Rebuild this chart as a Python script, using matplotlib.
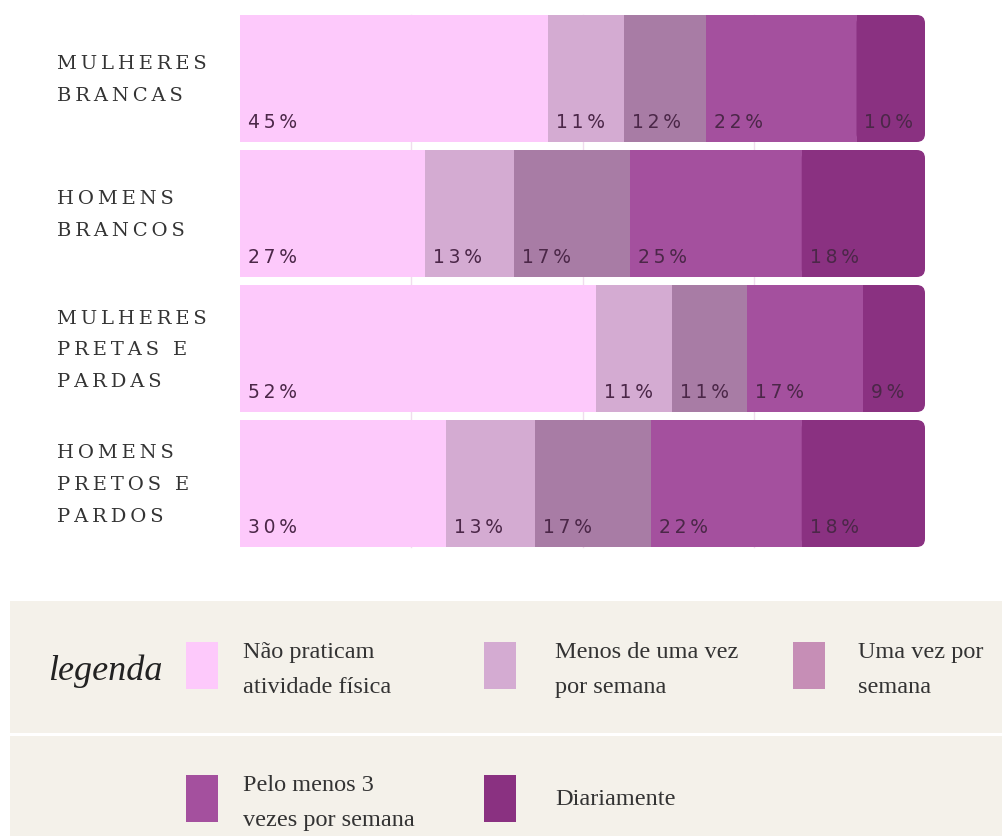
import numpy as np
import matplotlib.pyplot as plt
from matplotlib.patches import FancyBboxPatch, Rectangle

# Prática de atividade física por grupo (%)
groups = ['MULHERES\nBRANCAS', 'HOMENS\nBRANCOS',
          'MULHERES\nPRETAS E\nPARDAS', 'HOMENS\nPRETOS E\nPARDOS']
categories = ['Não praticam\natividade física', 'Menos de uma vez\npor semana',
              'Uma vez por\nsemana', 'Pelo menos 3\nvezes por semana', 'Diariamente']
nao_praticam = [45, 27, 52, 30]
menos_uma_vez = [11, 13, 11, 13]
uma_vez = [12, 17, 11, 17]
tres_vezes = [22, 25, 17, 22]
diariamente = [10, 18, 9, 18]

bar_colors = ['#fdc9fb', '#d4abd2', '#a87ca5', '#a4509e', '#8a3181']
legend_colors = ['#fdc9fb', '#d4abd2', '#c68eb6', '#a4509e', '#8a3181']

W, H = 1003, 836
THIN = '\u2009'


def px_box(x0, y0, x1, y1):
    """figure rect from pixel corners (origin top-left)"""
    return [x0 / W, 1 - y1 / H, (x1 - x0) / W, (y1 - y0) / H]


def spaced(s):
    return THIN.join(s)


fig = plt.figure(figsize=(W / 100, H / 100), dpi=100)
fig.patch.set_facecolor('white')

# ── stacked bars ─────────────────────────────────────────────
ax = fig.add_axes(px_box(240, 11, 925, 551))
ax.set_facecolor('white')
ax.set_xlim(0, 100)
ax.set_ylim(3.5, -0.5)
for sp in ax.spines.values():
    sp.set_visible(False)
ax.set_xticks([])
ax.set_yticks([])
for gx in (25, 50, 75):
    ax.axvline(gx, ymin=4 / 540, ymax=1 - 4 / 540, color='#f0dcee', lw=1, zorder=0)

BAR_H = 127 / 135
aspect = (685 / 100) / 135   # px per x-unit / px per y-unit
y = np.arange(len(groups))
series = [nao_praticam, menos_uma_vez, uma_vez, tres_vezes, diariamente]
left = np.zeros(len(groups))

for k, (vals, col) in enumerate(zip(series, bar_colors)):
    vals = np.array(vals, dtype=float)
    if k < len(series) - 1:
        ax.barh(y, vals, left=left, height=BAR_H, color=col, lw=0, zorder=2)
    else:
        # last segment: square on the left, rounded on the right
        ax.barh(y, vals / 2, left=left, height=BAR_H, color=col, lw=0, zorder=2)
        for yi, l, v in zip(y, left, vals):
            ax.add_patch(FancyBboxPatch((l, yi - BAR_H / 2), v, BAR_H,
                                        boxstyle='round,pad=0,rounding_size=1.2',
                                        mutation_aspect=aspect,
                                        fc=col, ec='none', zorder=2))
    for yi, l, v in zip(y, left, vals):
        ax.annotate(spaced(f'{v:.0f}%'), xy=(l, yi + BAR_H / 2),
                    xytext=(8, 14), textcoords='offset pixels',
                    ha='left', va='baseline', fontsize=13.5,
                    family='DejaVu Sans', color='#4b2748', zorder=5)
    left += vals

# group names, letter-spaced, centred on each bar
for yi, name in zip(y, groups):
    lines = name.split('\n')
    n = len(lines)
    for i, line in enumerate(lines):
        dy = (i - (n - 1) / 2) * 32 + 7
        ax.annotate(spaced(line), xy=(-0.267, yi),
                    xycoords=ax.get_yaxis_transform(),
                    xytext=(0, -dy), textcoords='offset pixels',
                    ha='left', va='baseline', fontsize=14,
                    family='DejaVu Serif', color='#333333',
                    annotation_clip=False)

# ── legend panel ─────────────────────────────────────────────
fig.patches.append(Rectangle((10 / W, 0), 1, 1 - 601 / H,
                             transform=fig.transFigure,
                             fc='#f4f1ea', ec='none', zorder=0))
fig.patches.append(Rectangle((10 / W, 1 - 736 / H), 1, 3 / H,
                             transform=fig.transFigure,
                             fc='white', ec='none', zorder=1))

fig.text(48 / W, 1 - 680 / H, 'legenda', fontsize=26, style='italic',
         family='Liberation Serif', color='#222222', va='baseline')

swatches = [(186, 642), (484, 642), (793, 642), (186, 775), (484, 775)]
text_x = [243, 555, 858, 243, 555]
for (sx, sy), tx, label, col in zip(swatches, text_x, categories, legend_colors):
    fig.patches.append(Rectangle((sx / W, 1 - (sy + 47) / H), 32 / W, 47 / H,
                                 transform=fig.transFigure,
                                 fc=col, ec='none', zorder=2))
    lines = label.split('\n')
    if len(lines) == 1:
        fig.text(tx / W, 1 - (sy + 30) / H, lines[0], fontsize=17.5,
                 family='Liberation Serif', color='#333333', va='baseline')
    else:
        for i, line in enumerate(lines):
            fig.text(tx / W, 1 - (sy + 16 + i * 35) / H, line, fontsize=17.5,
                     family='Liberation Serif', color='#333333', va='baseline')

fig.savefig('out.png', dpi=100, facecolor='white')
